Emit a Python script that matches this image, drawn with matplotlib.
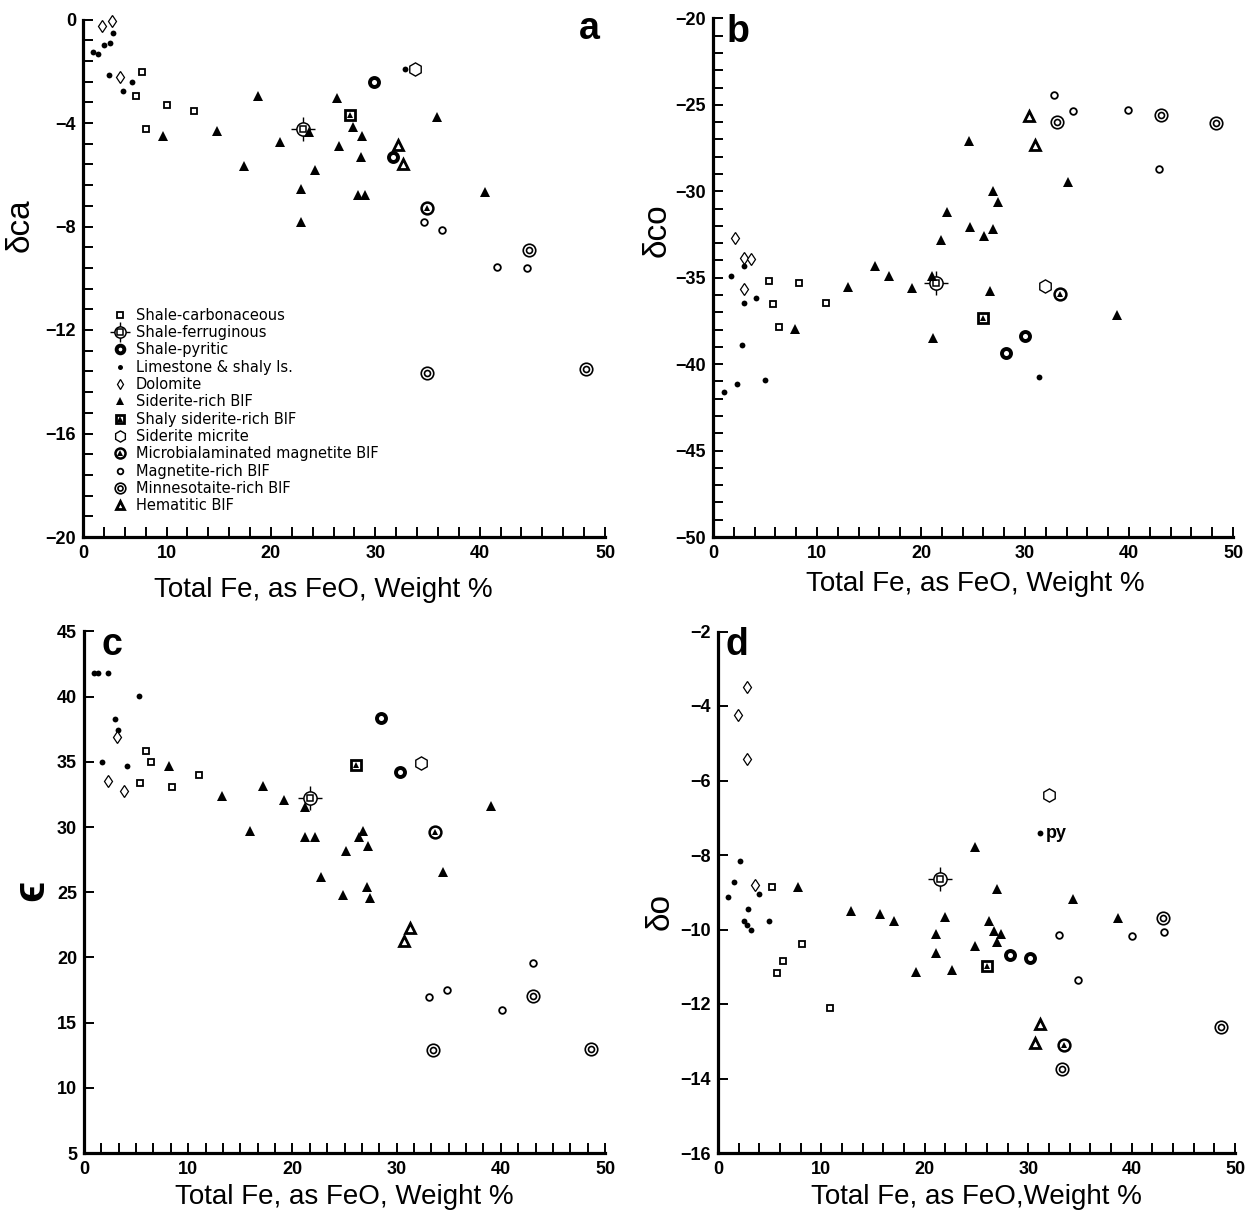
import matplotlib
matplotlib.use('Agg')
import matplotlib.pyplot as plt
from matplotlib.ticker import MultipleLocator

plt.rcParams['font.family'] = ['Liberation Sans', 'DejaVu Sans']

kinds = ['carb', 'ferr', 'pyr', 'lime', 'dol', 'sid', 'shsid', 'mic', 'mbl', 'mag', 'min', 'hem']
kind_labels = ['Shale-carbonaceous', 'Shale-ferruginous', 'Shale-pyritic',
               'Limestone & shaly ls.', 'Dolomite', 'Siderite-rich BIF',
               'Shaly siderite-rich BIF', 'Siderite micrite',
               'Microbialaminated magnetite BIF', 'Magnetite-rich BIF',
               'Minnesotaite-rich BIF', 'Hematitic BIF']
xlabel = 'Total Fe, as FeO, Weight %'

# counts per kind, same order as kinds
a_count = [5, 1, 2, 9, 3, 18, 1, 1, 1, 4, 3, 2]
a_fe = [5.65, 5.08, 8.02, 10.63, 6.06,
        21.04,
        27.87, 29.66,
        0.93, 1.47, 2.01, 2.59, 2.9, 2.49, 3.8, 4.72, 30.87,
        1.85, 2.75, 3.54,
        7.63, 12.8, 16.76, 15.45, 18.87, 21.62, 20.85, 20.88, 22.25, 24.36, 25.89, 26.72,
        24.52, 26.66, 26.34, 27.01, 33.88, 38.5,
        25.57,
        31.83,
        32.98,
        32.66, 34.39, 39.63, 42.5,
        42.69, 32.92, 48.18,
        30.2, 30.62]
a_val = [-2.04, -2.97, -3.29, -3.55, -4.23,
         -4.23,
         -2.40, -5.31,
         -1.26, -1.32, -1.0, -0.9, -0.52, -2.14, -2.75, -2.4, -1.91,
         -0.26, -0.04, -2.23,
         -4.49, -4.32, -2.94, -5.65, -4.75, -4.36, -6.55, -7.81, -5.83, -3.02, -4.17, -4.49,
         -4.9, -5.33, -6.8, -6.8, -3.77, -6.65,
         -3.69,
         -1.91,
         -7.27,
         -7.81, -8.12, -9.57, -9.62,
         -8.9, -13.66, -13.5,
         -4.86, -5.57]

b_count = [5, 1, 2, 9, 4, 18, 1, 1, 1, 4, 3, 2]
b_fe = [5.35, 8.25, 5.8, 10.9, 6.32,
        21.45,
        30.0, 28.2,
        1.04, 1.75, 2.97, 3.0, 4.16, 2.83, 2.34, 5.02, 31.3,
        2.16, 2.97, 3.68, 3.0,
        24.65, 34.1, 26.9, 27.4, 22.5, 24.7, 26.95, 26.06, 21.9, 15.6, 16.95, 21.08,
        13.0, 19.1, 26.65, 7.88, 21.15, 38.85,
        25.95,
        31.9,
        33.4,
        32.8, 34.6, 39.9, 42.9,
        33.1, 43.1, 48.4,
        30.4, 31.0]
b_val = [-35.16, -35.31, -36.53, -36.47, -37.84,
         -35.33,
         -38.38, -39.36,
         -41.6, -34.89, -34.31, -36.47, -36.18, -38.89, -41.16, -40.93, -40.73,
         -32.71, -33.87, -33.89, -35.64,
         -27.07, -29.47, -29.96, -30.62, -31.2, -32.04, -32.18, -32.58, -32.82, -34.33, -34.91, -34.87,
         -35.56, -35.58, -35.76, -37.98, -38.51, -37.13,
         -37.31,
         -35.49,
         -35.96,
         -24.44, -25.36, -25.27, -28.71,
         -26.0, -25.6, -26.07,
         -25.67, -27.31]

c_count = [5, 1, 2, 8, 3, 18, 1, 1, 1, 4, 3, 2]
c_fe = [5.98, 6.39, 5.35, 8.4, 11.03,
        21.7,
        28.5, 30.3,
        1.0, 1.3, 2.3, 5.24, 2.93, 3.23, 1.75, 4.12,
        3.16, 2.27, 3.83,
        8.17, 13.26, 17.16, 19.24, 15.97, 21.2, 21.25, 22.2, 26.8, 26.4, 27.3, 25.1,
        22.7, 24.9, 27.2, 27.45, 34.5, 39.1,
        26.1,
        32.35,
        33.65,
        43.1, 34.8, 33.1, 40.15,
        43.1, 33.5, 48.66,
        31.24, 30.7]
c_val = [35.81, 35.0, 33.37, 33.09, 33.96,
         32.2,
         38.37, 34.19,
         41.8, 41.8, 41.85, 40.08, 38.26, 37.47, 34.97, 34.69,
         36.88, 33.54, 32.75,
         34.69, 32.39, 33.17, 32.08, 29.72, 31.54, 29.21, 29.27, 29.72, 29.27, 28.57, 28.15,
         26.15, 24.78, 25.4, 24.58, 26.54, 31.63,
         34.78,
         34.89,
         29.63,
         19.61, 17.53, 17.0, 15.98,
         17.05, 12.87, 12.98,
         22.28, 21.29]

d_count = [5, 1, 2, 10, 4, 18, 1, 1, 1, 4, 3, 2]
d_fe = [5.19, 8.15, 6.28, 5.72, 10.87,
        21.49,
        28.25, 30.16,
        2.17, 1.53, 0.93, 4.0, 2.91, 2.54, 2.8, 3.18, 4.9, 31.1,
        2.8, 1.94, 2.77, 3.59,
        7.77, 12.9, 15.66, 17.0, 19.13, 21.11, 21.11, 21.97, 22.6, 24.81, 24.85, 26.2,
        26.7, 27.4, 27.0, 26.94, 34.3, 38.7,
        25.97,
        32.0,
        33.5,
        33.0, 40.06, 43.09, 34.8,
        33.26, 43.05, 48.6,
        31.13, 30.68]
d_val = [-8.87, -10.38, -10.85, -11.18, -12.12,
         -8.65,
         -10.69, -10.77,
         -8.15, -8.72, -9.13, -9.04, -9.46, -9.78, -9.88, -10.01, -9.76, -7.41,
         -3.49, -4.25, -5.41, -8.81,
         -8.87, -9.5, -9.58, -9.78, -11.13, -10.11, -10.64, -9.66, -11.09, -7.79, -10.45, -9.77,
         -10.04, -10.12, -10.33, -8.91, -9.19, -9.69,
         -10.97,
         -6.39,
         -13.1,
         -10.14, -10.18, -10.06, -11.35,
         -13.74, -9.69, -12.62,
         -12.54, -13.04]


def mark(ax, kind, x, y):
    k = dict(ls='none', clip_on=False, mec='black')
    if kind == 'carb':
        return (ax.plot(x, y, 's', ms=4.6, mfc='white', mew=1.3, **k)[0],)
    if kind == 'ferr':
        return (ax.plot(x, y, '+', ms=17, mew=1.0, **k)[0],
                ax.plot(x, y, 'o', ms=9.5, mfc='white', mew=1.1, **k)[0],
                ax.plot(x, y, 's', ms=4.5, mfc='white', mew=1.1, **k)[0])
    if kind == 'pyr':
        return (ax.plot(x, y, 'o', ms=6.5, mfc='white', mew=2.8, **k)[0],)
    if kind == 'lime':
        return (ax.plot(x, y, 'o', ms=4.2, mfc='black', mew=0, **k)[0],)
    if kind == 'dol':
        return (ax.plot(x, y, 'd', ms=6, mfc='white', mew=0.9, **k)[0],)
    if kind == 'sid':
        return (ax.plot(x, y, '^', ms=6.6, mfc='black', mew=0, **k)[0],)
    if kind == 'shsid':
        return (ax.plot(x, y, 's', ms=6.5, mfc='white', mew=2.0, **k)[0],
                ax.plot(x, y, '^', ms=4.5, mfc='black', mew=0, **k)[0])
    if kind == 'mic':
        return (ax.plot(x, y, 'h', ms=9.5, mfc='white', mew=1.0, **k)[0],)
    if kind == 'mbl':
        return (ax.plot(x, y, 'o', ms=8.5, mfc='white', mew=1.8, **k)[0],
                ax.plot(x, y, '^', ms=5, mfc='black', mew=0, **k)[0])
    if kind == 'mag':
        return (ax.plot(x, y, 'o', ms=4.8, mfc='white', mew=1.3, **k)[0],)
    if kind == 'min':
        return (ax.plot(x, y, 'o', ms=9, mfc='white', mew=1.2, **k)[0],
                ax.plot(x, y, 'o', ms=4.3, mfc='white', mew=1.2, **k)[0])
    if kind == 'hem':
        return (ax.plot(x, y, '^', ms=7.5, mfc='white', mew=2.0, **k)[0],)


def draw_panel(ax, fe, val, count):
    handles = []
    i = 0
    for kind, n in zip(kinds, count):
        handles.append(mark(ax, kind, fe[i:i + n], val[i:i + n]))
        i += n
    return handles


def lab(t):
    return ('%g' % t).replace('-', '\u2212')


def style(ax, xticks, xlabs, yticks, xminor, yminor):
    for s in ['top', 'right']:
        ax.spines[s].set_visible(False)
    for s in ['left', 'bottom']:
        ax.spines[s].set_linewidth(2.3)
    ax.set_xticks(xticks, xlabs, fontweight='bold', fontsize=13)
    ax.set_yticks(yticks, [lab(t) for t in yticks], fontweight='bold', fontsize=13)
    if xminor:
        ax.xaxis.set_minor_locator(MultipleLocator(xminor))
    if yminor:
        ax.yaxis.set_minor_locator(MultipleLocator(yminor))
    ax.tick_params(which='both', direction='in', length=7, width=1.4)
    ax.tick_params(axis='x', pad=6)
    ax.tick_params(axis='y', pad=5)


fig = plt.figure(figsize=(12.45, 12.14), dpi=100)
W, H = 1245.0, 1214.0


def add_axes(x0, x1, y0, y1):
    return fig.add_axes([x0 / W, 1 - y1 / H, (x1 - x0) / W, (y1 - y0) / H])


ax_a = add_axes(83, 605, 19.5, 537)
ax_b = add_axes(713, 1233, 18.5, 537)
ax_c = add_axes(84, 605, 631.5, 1153)
ax_d = add_axes(718, 1235, 631.5, 1153)

fifty = ['0', '10', '20', '30', '40', '50']

# panel a
h_a = draw_panel(ax_a, a_fe, a_val, a_count)
ax_a.set_xlim(0, 50)
ax_a.set_ylim(-20, 0)
style(ax_a, [0, 8, 18, 28, 38, 50], fifty, [-20, -16, -12, -8, -4, 0], 2, 0.8)
ax_a.legend(h_a, kind_labels, loc='upper left', bbox_to_anchor=(0.052, 0.443),
            frameon=False, prop={'family': 'DejaVu Sans', 'size': 10.5},
            handlelength=1.3, handletextpad=0.45, labelspacing=0.16,
            borderpad=0, borderaxespad=0, markerscale=0.85)
ax_a.text(0.969, 0.982, 'a', transform=ax_a.transAxes, fontsize=27, fontweight='bold',
          ha='center', va='center')
ax_a.text(-0.121, 0.603, '\u03b4ca', transform=ax_a.transAxes, fontsize=24,
          rotation=90, ha='center', va='center')
ax_a.text(0.46, -0.102, xlabel, transform=ax_a.transAxes, fontsize=20,
          ha='center', va='center')

# panel b
draw_panel(ax_b, b_fe, b_val, b_count)
ax_b.set_xlim(0, 50)
ax_b.set_ylim(-50, -20)
style(ax_b, [0, 10, 20, 30, 40, 50], fifty, [-50, -45, -40, -35, -30, -25, -20], 2, 1)
ax_b.text(0.048, 0.974, 'b', transform=ax_b.transAxes, fontsize=27, fontweight='bold',
          ha='center', va='center')
ax_b.text(-0.108, 0.592, '\u03b4co', transform=ax_b.transAxes, fontsize=24,
          rotation=90, ha='center', va='center')
ax_b.text(0.505, -0.09, xlabel, transform=ax_b.transAxes, fontsize=20,
          ha='center', va='center')

# panel c
draw_panel(ax_c, c_fe, c_val, c_count)
ax_c.set_xlim(0, 50)
ax_c.set_ylim(5, 45)
style(ax_c, [0, 10, 20, 30, 40, 50], fifty, [5, 10, 15, 20, 25, 30, 35, 40, 45], 10 / 6, None)
ax_c.text(0.054, 0.974, 'c', transform=ax_c.transAxes, fontsize=27, fontweight='bold',
          ha='center', va='center')
ax_c.text(-0.10, 0.504, '\u03f5', transform=ax_c.transAxes, fontsize=32, fontweight='bold',
          rotation=90, ha='center', va='center')
ax_c.text(0.5, -0.085, xlabel, transform=ax_c.transAxes, fontsize=20,
          ha='center', va='center')

# panel d
draw_panel(ax_d, d_fe, d_val, d_count)
ax_d.set_xlim(0, 50)
ax_d.set_ylim(-16, -2)
style(ax_d, [0, 10, 20, 30, 40, 50], fifty, [-16, -14, -12, -10, -8, -6, -4, -2], 2, None)
ax_d.text(31.7, -7.41, 'py', fontsize=13, fontweight='bold', va='center')
ax_d.text(0.037, 0.974, 'd', transform=ax_d.transAxes, fontsize=27, fontweight='bold',
          ha='center', va='center')
ax_d.text(-0.112, 0.464, '\u03b4o', transform=ax_d.transAxes, fontsize=24,
          rotation=90, ha='center', va='center')
ax_d.text(0.5, -0.085, 'Total Fe, as FeO,Weight %', transform=ax_d.transAxes, fontsize=20,
          ha='center', va='center')

fig.savefig('out.png', dpi=100)
